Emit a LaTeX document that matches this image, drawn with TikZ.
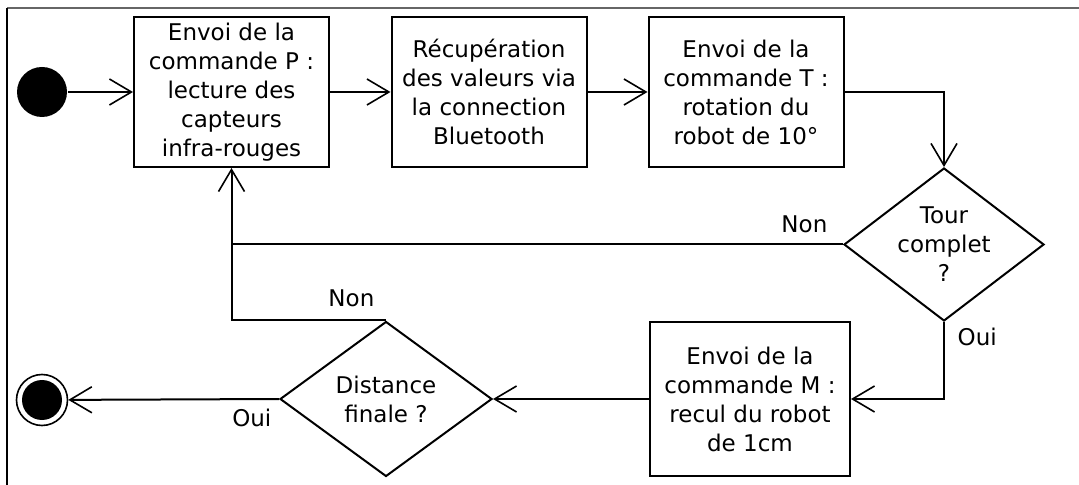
\documentclass[tikz,border=0pt]{standalone}
\usepackage{fontspec}
\setmainfont{DejaVu Sans}
\usetikzlibrary{positioning, shapes.geometric, arrows.meta}

\begin{document}
\begin{tikzpicture}[x=0.5pt, y=-0.5pt, line width=1pt,
    >={Straight Barb[length=11pt, width=13pt, line width=0.8pt]},
    txt/.style={font=\fontsize{11.5}{14.5}\selectfont},
    box/.style={draw, rectangle, txt, align=center, minimum width=97.5pt, minimum height=75pt, inner sep=0pt},
    choice/.style={draw, diamond, txt, align=center, inner sep=0pt, aspect=1.3},
    flow/.style={->}]
    \useasboundingbox (0,0) rectangle (1079,485);

    % frame of the page
    \draw[gray!80!black] (7,8) -- (1079,8);
    \draw[black] (7,8) -- (7,485);

    % start and end
    \node[circle, fill=black, minimum size=25pt, inner sep=0pt] (start) at (42,92) {};
    \node[circle, draw, line width=0.8pt, minimum size=25.5pt, inner sep=0pt] (stop) at (42,400) {};
    \fill (stop.center) circle[radius=20];

    % actions
    \node[box] (cmdP) at (231.5,92) {Envoi de la\\commande P :\\lecture des\\capteurs\\infra-rouges};
    \node[box] (recup) at (489,92) {Récupération\\des valeurs via\\la connection\\Bluetooth};
    \node[box] (cmdT) at (746,92) {Envoi de la\\commande T :\\rotation du\\robot de 10°};
    \node[box, minimum width=100pt, minimum height=76.5pt] (cmdM) at (750,399) {Envoi de la\\commande M :\\recul du robot\\de 1cm};

    % tests
    \node[choice, minimum width=100pt, minimum height=76.5pt] (tour) at (944,244.5) {Tour\\complet\\?};
    \node[choice, minimum width=106pt, minimum height=77.5pt] (dist) at (386,399) {Distance\\finale ?};
    \coordinate (join) at (cmdP.south |- tour.west);

    \draw[flow] (start) -- (cmdP);
    \draw[flow] (cmdP) -- (recup);
    \draw[flow] (recup) -- (cmdT);
    \draw[flow] (cmdT.east) -| (tour.north);
    \draw[flow] (tour.west) node[txt, above left=2pt and 4pt] {Non} -| (cmdP.south);
    \draw[flow] (tour.south) node[txt, below right=-1pt and 3pt] {Oui} |- (cmdM.east);
    \draw[flow] (cmdM.west) -- (dist.east);
    \draw (dist.north) node[txt, above left=3pt and 2pt] {Non} -| (join);
    \draw[flow] (dist.west) node[txt, below left=1pt and 0pt] {Oui} -- (stop);
\end{tikzpicture}
\end{document}
